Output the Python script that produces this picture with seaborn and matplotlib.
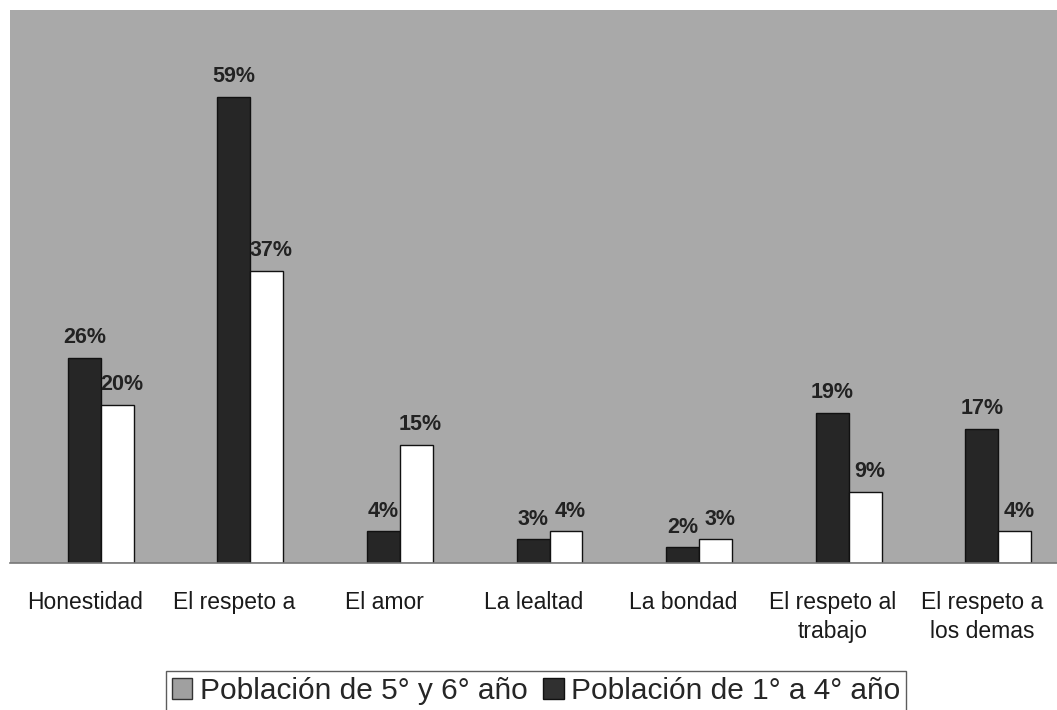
import matplotlib
matplotlib.use("Agg")
import matplotlib.pyplot as plt
import matplotlib.patches as mpatches
import numpy as np
import pandas as pd
import seaborn as sns

valores = ["Honestidad", "El respeto a", "El amor", "La lealtad", "La bondad",
           "El respeto al\ntrabajo", "El respeto a\nlos demas"]
pob_1a4 = [26, 59, 4, 3, 2, 19, 17]
pob_5y6 = [20, 37, 15, 4, 3, 9, 4]
serie_1a4 = "Población de 1° a 4° año"
serie_5y6 = "Población de 5° y 6° año"

df = pd.DataFrame({
    "valor": valores * 2,
    "pct": pob_1a4 + pob_5y6,
    "serie": [serie_1a4] * len(valores) + [serie_5y6] * len(valores),
})

sns.set_style("white")
plt.rcParams["font.family"] = ["Liberation Sans", "DejaVu Sans"]

fig = plt.figure(figsize=(10.57, 7.10), dpi=100)
ax = fig.add_axes([0.0095, 0.207, 0.9905, 0.779])
ax.set_facecolor("#a9a9a9")

sns.barplot(data=df, x="valor", y="pct", hue="serie",
            hue_order=[serie_1a4, serie_5y6],
            palette={serie_1a4: "#262626", serie_5y6: "#ffffff"},
            width=0.44, gap=0, edgecolor="#111111", linewidth=1.0,
            legend=False, ax=ax)

# etiquetas de valor; las de la serie blanca van un poco a la derecha
for i, cont in enumerate(ax.containers):
    textos = ax.bar_label(cont, labels=[f"{v:.0f}%" for v in cont.datavalues],
                          padding=7, fontsize=15.5, fontweight="bold", color="#222222")
    if i == 1:
        for t in textos:
            t.xyann = (t.xyann[0] + 3, t.xyann[1])

ax.set_ylim(0, 70)
ax.set_xlim(-0.607, 6.37)
ax.set_yticks([])
ax.set_xlabel("")
ax.set_ylabel("")

n = len(valores)
ax.set_xticks(np.arange(n) - 0.107)
ax.set_xticklabels(valores, fontsize=16.5, color="#1a1a1a", linespacing=1.35)
ax.tick_params(axis="x", which="major", length=0, pad=20)
ax.set_xticks(np.arange(n) + 0.393, minor=True)
ax.tick_params(axis="x", which="minor", length=6, color="#999999", width=1)

for side in ["top", "right", "left"]:
    ax.spines[side].set_visible(False)
ax.spines["bottom"].set_color("#777777")
ax.spines["bottom"].set_linewidth(1.2)

handles = [
    mpatches.Patch(facecolor="#a0a0a0", edgecolor="#333333", label=serie_5y6),
    mpatches.Patch(facecolor="#303030", edgecolor="#111111", label=serie_1a4),
]
leg = fig.legend(handles=handles, loc="center", bbox_to_anchor=(0.507, 0.027),
                 ncol=2, fontsize=21.5, frameon=True, fancybox=False,
                 handlelength=0.7, handleheight=0.7, handletextpad=0.25,
                 columnspacing=0.5, borderpad=0.2, borderaxespad=0,
                 edgecolor="#333333")
leg.get_frame().set_linewidth(1.0)

plt.savefig("out.png", dpi=100)
plt.close()
